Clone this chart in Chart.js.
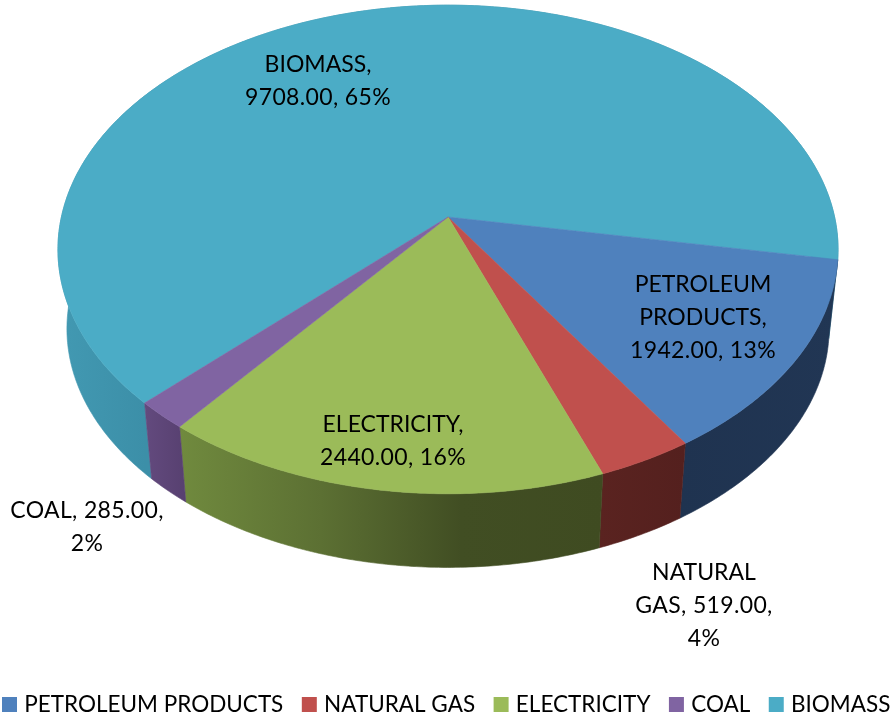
<!DOCTYPE html>
<html>
<head>
<meta charset="utf-8">
<style>html,body{margin:0;padding:0;background:#fff;overflow:hidden}canvas{display:block}</style>
<script src="https://cdn.jsdelivr.net/npm/chart.js@4"></script>
</head>
<body>
<canvas id="c" width="894" height="718"></canvas>
<script>
const categories = ["PETROLEUM PRODUCTS", "NATURAL GAS", "ELECTRICITY", "COAL", "BIOMASS"];
const energyValues = [1942, 519, 2440, 285, 9708];
const percentLabels = [13, 4, 16, 2, 65];
const topColors = ["#4F81BD", "#C0504D", "#9BBB59", "#8064A2", "#4BACC6"];
const wallColors = [
  ["#1f3350", "#213654"],
  ["#5a2320", "#54201e"],
  ["#708a3e", "#5c7033", "#414e23", "#3f4b21"],
  ["#634a7e", "#574070"],
  ["#4299b2", "#3c8fa8"]
];
const wordsPerLine = [[1, 1, 2], [1, 2, 1], [1, 2], [2, 1], [1, 2]];
const labelCentres = [[703, 285], [704, 573], [393, 425], [87, 511], [318, 65]];

const FONT = 'Lato, "Open Sans", sans-serif';
const LABEL_SIZE = 23, LEGEND_SIZE = 22.5, LINE_PITCH = 33;
// perspective mapping of the unit disc onto the picture
const APEX_X = 448, APEX_Y = 217, RX = 386.6, RY = 240, PERSP = 0.1329;
const DEPTH_Y = 80, DEPTH_SCALE = 0.977;

function project(a, lower) {
  const u = Math.cos(a), v = Math.sin(a), w = 1 - PERSP * v;
  const dx = RX * u / w, dy = RY * v / w;
  if (!lower) return [APEX_X + dx, APEX_Y + dy];
  return [APEX_X + dx * DEPTH_SCALE, APEX_Y + DEPTH_Y + dy * DEPTH_SCALE];
}
function arcPoints(a0, a1, lower) {
  const n = Math.max(2, Math.ceil(Math.abs(a1 - a0) / 0.01));
  const pts = [];
  for (let i = 0; i <= n; i++) pts.push(project(a0 + (a1 - a0) * i / n, lower));
  return pts;
}
function fillPoly(ctx, pts, fill) {
  ctx.beginPath();
  pts.forEach((p, i) => i ? ctx.lineTo(p[0], p[1]) : ctx.moveTo(p[0], p[1]));
  ctx.closePath();
  ctx.fillStyle = fill;
  ctx.strokeStyle = fill;
  ctx.lineWidth = 0.6;
  ctx.fill();
  ctx.stroke();
}

const pie3d = {
  id: 'pie3d',
  afterLayout(chart) {
    const l = chart.legend;
    l.maxWidth = 3000;
    l.fit();
    const p = l.options.labels.padding;
    l.left = 6 - p;
    l.right = l.left + l.width;
    l.top = 693.25 - p;
    l.bottom = l.top + l.height;
    l.adjustHitBoxes();
  },
  beforeDatasetDraw(chart) {
    const ctx = chart.ctx, arcs = chart.getDatasetMeta(0).data;
    ctx.save();
    const order = [4, 0, 1, 2, 3];
    order.forEach(i => {
      const arc = arcs[i];
      const upper = arcPoints(arc.startAngle, arc.endAngle, false);
      const lower = arcPoints(arc.startAngle, arc.endAngle, true).reverse();
      const xs = upper.concat(lower).map(p => p[0]);
      const visLeft = Math.max(Math.min(...xs), 60), visRight = Math.max(...xs);
      const g = ctx.createLinearGradient(i === 4 ? 60 : visLeft, 0, i === 4 ? 145 : visRight, 0);
      wallColors[i].forEach((c, k) => g.addColorStop(k / (wallColors[i].length - 1), c));
      fillPoly(ctx, upper.concat(lower), g);
    });
    order.forEach(i => {
      const arc = arcs[i];
      fillPoly(ctx, [[APEX_X, APEX_Y]].concat(arcPoints(arc.startAngle, arc.endAngle, false)), topColors[i]);
    });
    ctx.restore();
    return false; // the top faces and walls above replace the flat slices
  },
  afterDatasetsDraw(chart) {
    const ctx = chart.ctx;
    ctx.save();
    ctx.font = LABEL_SIZE + 'px ' + FONT;
    ctx.fillStyle = '#000';
    ctx.textAlign = 'center';
    ctx.textBaseline = 'middle';
    categories.forEach((name, i) => {
      const words = (name + ', ' + energyValues[i].toFixed(2) + ', ' + percentLabels[i] + '%').split(' ');
      let k = 0;
      wordsPerLine[i].forEach((count, line) => {
        const text = words.slice(k, k + count).join(' ');
        k += count;
        ctx.letterSpacing = /\d/.test(text) ? '0.35px' : '0px';
        ctx.fillText(text, labelCentres[i][0], labelCentres[i][1] + line * LINE_PITCH);
      });
    });
    ctx.restore();
  }
};

new Chart(document.getElementById('c'), {
  type: 'pie',
  data: {
    labels: categories,
    datasets: [{ data: energyValues, backgroundColor: topColors, borderWidth: 0 }]
  },
  options: {
    responsive: false,
    animation: false,
    rotation: 100,
    plugins: {
      tooltip: { enabled: false },
      legend: {
        position: 'bottom',
        align: 'start',
        labels: {
          font: { family: FONT, size: LEGEND_SIZE },
          color: '#000',
          boxWidth: 7,
          boxHeight: 15,
          usePointStyle: true,
          pointStyle: 'rect',
          padding: 22.5
        }
      }
    }
  },
  plugins: [pie3d]
});
</script>
</body>
</html>
